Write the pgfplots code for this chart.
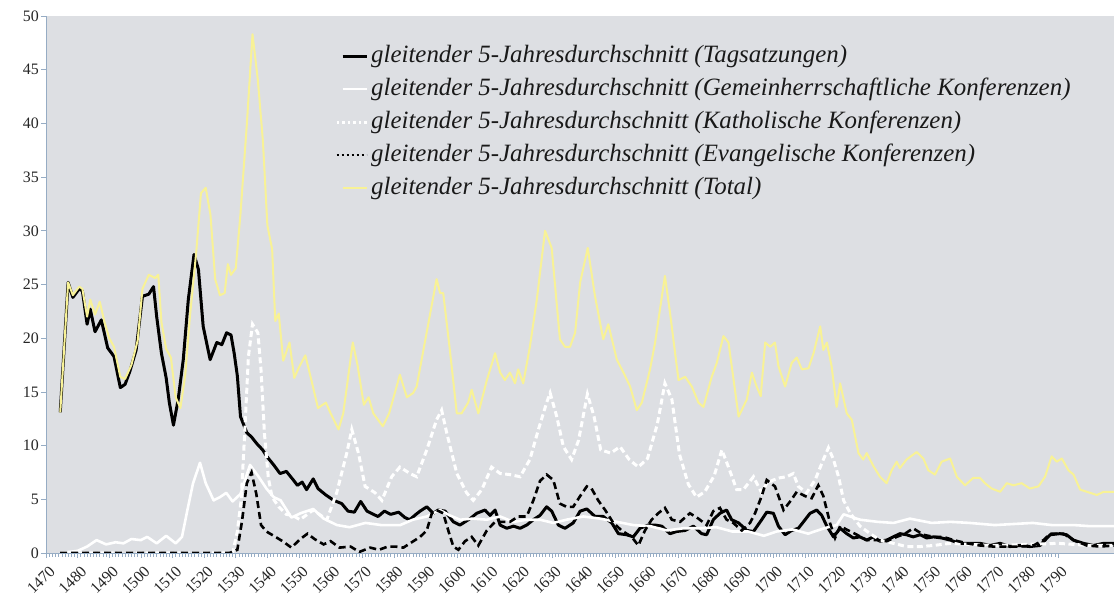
\documentclass[border=0pt]{standalone}
\usepackage{fontspec}
\setmainfont{Liberation Serif}
\usepackage{pgfplots}
\pgfplotsset{compat=1.18}
\definecolor{bgc}{RGB}{221,223,227}
\definecolor{axc}{RGB}{150,172,196}
\definecolor{tot}{RGB}{248,242,150}
\begin{document}
\begin{tikzpicture}
\useasboundingbox (0,0) rectangle (1114bp,605bp);
\begin{axis}[
 at={(46bp,52bp)}, anchor=south west,
 scale only axis, width=1068bp, height=537bp,
 xmin=1470, xmax=1807.7, ymin=0, ymax=50,
 axis background/.style={fill=bgc},
 axis x line*=bottom, axis y line*=left,
 axis line style={axc, line width=0.9bp, -},
 every outer x axis line/.append style={-},
 every outer y axis line/.append style={-},
 xtick={1470,1480,...,1790}, minor x tick num=9,
 ytick={0,5,...,50},
 tick align=outside, major tick length=5bp, minor tick length=4bp,
 tick style={axc, line width=0.6bp},
 /pgf/number format/1000 sep={}, /pgf/number format/assume math mode=true,
 ticklabel style={font=\fontsize{16}{16}\selectfont, text=black!85},
 xticklabel style={rotate=45, anchor=east, inner sep=1bp, yshift=-12bp, xshift=-2bp},
 yticklabel style={inner sep=2bp},
 legend style={at={(0.2706,0.950)}, anchor=north west, draw=none, fill=none,
   font=\fontsize{25}{25}\selectfont\itshape, text=black!90, inner sep=0pt,
   row sep=7bp, column sep=2bp,
   nodes={inner sep=1bp, text height=18bp, text depth=6bp}},
 legend cell align=left,
 legend image code/.code={\draw[#1] (0bp,0bp) -- (24bp,0bp);},
]
% Tagsatzungen
\addplot[black, line width=3bp, line join=round] coordinates {
(1474.5,13.1)(1477,25.2)(1478.5,23.8)(1480.5,24.6)(1481.5,24.4)(1483,21.3)(1484,22.7)(1485.5,20.6)(1487.5,21.7)(1489.5,19.1)(1491.5,18.3)(1493.5,15.4)(1495,15.7)(1496.5,16.9)(1498.5,18.9)(1500.5,23.9)(1502.5,24.1)(1504,24.8)(1505,22.0)(1506.5,18.6)(1508,16.3)(1509,14.0)(1510.3,11.9)(1511.8,14.3)(1513.4,18.0)(1515,23.6)(1516.8,27.8)(1518.2,26.4)(1519.7,21.1)(1521.9,18.0)(1524,19.6)(1525.6,19.4)(1527.1,20.5)(1528.5,20.3)(1529.5,18.6)(1530.5,16.5)(1531.5,12.7)(1533.5,11.2)(1535,10.8)(1536.6,10.2)(1538.5,9.6)(1539.8,9.0)(1542,8.2)(1544,7.4)(1546,7.6)(1548.2,6.8)(1549.5,6.3)(1551,6.6)(1552.4,5.9)(1554.5,6.9)(1556,6.0)(1558.5,5.4)(1561,4.9)(1563.5,4.6)(1565.5,3.9)(1567.5,3.8)(1569.5,4.8)(1571.5,3.9)(1573.5,3.6)(1575,3.4)(1577,3.9)(1579,3.6)(1581.5,3.8)(1583.5,3.3)(1585,3.1)(1587,3.6)(1588.3,3.9)(1590.4,4.3)(1592.5,3.7)(1594,4.0)(1596.2,3.9)(1598.8,2.9)(1600.9,2.6)(1604.1,3.2)(1606.2,3.7)(1608.8,4.0)(1610.4,3.5)(1612,4.0)(1613.6,2.6)(1615.7,2.3)(1617.8,2.5)(1619.9,2.3)(1622,2.6)(1624.1,3.1)(1626.2,3.5)(1628.3,4.3)(1629.9,3.9)(1632,2.6)(1634.1,2.3)(1636.7,2.8)(1638.9,3.9)(1641,4.1)(1643.6,3.4)(1646.2,3.4)(1648.9,2.8)(1651,1.8)(1653.6,1.7)(1655.7,1.5)(1657.8,2.3)(1660.4,2.6)(1662.6,2.6)(1664.7,2.5)(1667.3,1.8)(1669.4,2.0)(1672.1,2.1)(1674.7,2.5)(1677.3,1.8)(1678.9,1.7)(1681,3.1)(1683.1,3.7)(1685.2,4.0)(1686.8,3.1)(1689,2.8)(1691.6,2.1)(1693.7,2.0)(1696.3,3.1)(1697.9,3.8)(1700,3.7)(1701.6,2.5)(1703.7,1.7)(1705.8,2.1)(1707.9,2.3)(1709.5,2.9)(1711.6,3.7)(1713.7,4.0)(1715.3,3.5)(1716.9,2.5)(1719,1.5)(1721.1,2.3)(1723.2,1.8)(1725.3,1.4)(1727.4,1.5)(1729.5,1.2)(1731.6,1.5)(1733.7,1.1)(1735.8,1.2)(1737.9,1.5)(1740,1.8)(1742.1,1.7)(1744.2,1.5)(1746.4,1.7)(1748.5,1.4)(1750.6,1.5)(1753.2,1.4)(1755.9,1.2)(1759,0.9)(1762.2,0.9)(1765.3,0.9)(1768.5,0.7)(1771.7,0.9)(1774.8,0.6)(1778,0.7)(1781.1,0.6)(1784.3,0.7)(1787.5,1.7)(1790.6,1.8)(1792.7,1.7)(1794.9,1.2)(1798,0.9)(1801.2,0.7)(1804.4,0.9)(1808,0.9)
};
\addlegendentry{gleitender 5-Jahresdurchschnitt (Tagsatzungen)}
% Gemeinherrschaftliche
\addplot[white, line width=2.6bp, line join=round] coordinates {
(1474.5,0)(1480,0.2)(1483,0.6)(1486,1.2)(1489,0.8)(1492,1.0)(1494.5,0.9)(1497,1.3)(1500,1.2)(1502,1.5)(1505,0.9)(1508,1.6)(1511,0.9)(1513,1.5)(1514.5,3.7)(1516.5,6.5)(1518.7,8.4)(1520.5,6.5)(1523,4.9)(1525,5.2)(1527,5.6)(1529,4.8)(1531.5,5.5)(1534.5,8.2)(1537,7.2)(1539.7,6.0)(1542,5.2)(1544.2,4.9)(1547.6,3.3)(1550.5,3.7)(1554.5,4.1)(1557.8,3.2)(1562,2.6)(1566,2.4)(1571,2.8)(1576,2.6)(1582,2.6)(1586,3.1)(1590.4,3.4)(1594.6,4.0)(1597.7,3.5)(1600.9,3.1)(1605,3.2)(1609.4,3.1)(1613.6,3.4)(1617.8,2.9)(1622,3.1)(1626.2,3.1)(1630.4,2.8)(1634.6,3.1)(1639.9,3.4)(1645.2,3.2)(1650.5,2.9)(1655.7,2.6)(1661,2.5)(1666.3,2.1)(1671.5,2.3)(1676.8,2.3)(1682,2.4)(1687,2.0)(1692,2.0)(1697,1.6)(1701,2.0)(1706,2.2)(1711,1.8)(1716,2.3)(1720,2.6)(1722.2,3.6)(1727.4,3.1)(1733,2.9)(1738,2.8)(1743.2,3.2)(1750,2.8)(1756,2.9)(1762,2.8)(1770,2.6)(1776,2.7)(1782,2.8)(1788,2.6)(1795,2.6)(1800,2.5)(1808,2.5)
};
\addlegendentry{gleitender 5-Jahresdurchschnitt (Gemeinherrschaftliche Konferenzen)}
% Katholische
\addplot[white, line width=3bp, dash pattern=on 6bp off 3.5bp,
  legend image code/.code={\draw[white, line width=3bp, dash pattern=on 2.5bp off 3bp] (-6bp,0bp) -- (24bp,0bp);}] coordinates {
(1474.5,0)(1529,0)(1530.5,2.0)(1531.7,4.9)(1532.9,11.6)(1534,18.3)(1535.3,21.3)(1537,20.5)(1538,17)(1539.1,11)(1540.3,7)(1541.5,5.2)(1543.6,4.3)(1546,3.6)(1548,3.5)(1550.3,3.1)(1554.5,4.0)(1558.8,3.1)(1561.9,5.6)(1565.1,9.3)(1566.7,11.5)(1568.8,9.3)(1570.9,6.2)(1574.1,5.6)(1576.2,4.9)(1579.3,7.1)(1581.9,8.0)(1585.1,7.4)(1587.2,7.1)(1590.4,9.6)(1593.5,12.4)(1595.1,13.3)(1596.7,11.2)(1599.9,7.4)(1603,5.6)(1605.1,4.9)(1607.8,5.9)(1610.9,8.0)(1613.6,7.4)(1616.7,7.3)(1619.9,7.1)(1623,8.7)(1625.7,11.5)(1628.3,14.0)(1629.4,14.9)(1631.5,12.7)(1633.6,9.9)(1636.2,8.7)(1638.4,10.5)(1641.2,14.8)(1643.3,12.7)(1645.4,9.6)(1648.6,9.3)(1651.5,9.9)(1654.4,8.7)(1657.3,8.0)(1660.2,8.8)(1663.3,12)(1665.7,15.8)(1667.9,14.3)(1670.3,9.2)(1673.1,6.4)(1675.7,5.2)(1678.3,5.7)(1681.3,7.2)(1683.7,9.6)(1685.8,8.0)(1688.4,5.9)(1690.5,5.9)(1693.7,7.1)(1696.3,5.6)(1697.9,6.5)(1700,6.8)(1702,7.0)(1704.2,7.1)(1706.3,7.4)(1707.9,6.2)(1710.5,5.6)(1713.2,6.8)(1715.8,8.7)(1717.4,9.8)(1719,8.7)(1720.6,7.1)(1722.2,4.9)(1724.3,3.7)(1727.4,2.5)(1730.6,1.8)(1733.7,1.2)(1737.9,0.9)(1742.1,0.6)(1746.4,0.6)(1750.6,0.7)(1755.9,0.9)(1762,0.8)(1770,0.7)(1780,0.8)(1790,0.9)(1800,0.7)(1808,0.7)
};
\addlegendentry{gleitender 5-Jahresdurchschnitt (Katholische Konferenzen)}
% Evangelische
\addplot[black, line width=2.6bp, dash pattern=on 7bp off 4bp,
  legend image code/.code={\draw[black, line width=2bp, dash pattern=on 2bp off 3bp] (-6bp,0bp) -- (24bp,0bp);}] coordinates {
(1474.5,0)(1528,0)(1530.5,0.3)(1532,3)(1533.5,6.5)(1535,7.5)(1536.5,5.5)(1538,2.6)(1539.7,2.0)(1542,1.6)(1544.8,1.1)(1547.6,0.5)(1550.4,1.3)(1552.7,1.8)(1554.9,1.3)(1557.8,0.8)(1560,1.1)(1562.8,0.5)(1566.3,0.6)(1569.1,0.1)(1572.5,0.5)(1575.3,0.3)(1578.1,0.6)(1580.5,0.6)(1583,0.5)(1585.1,0.9)(1588.3,1.5)(1590.4,2.1)(1592,3.7)(1593.5,4.0)(1595.6,3.7)(1597.2,2.1)(1598.8,0.6)(1600.4,0.3)(1602.5,1.1)(1604.6,1.5)(1606.7,0.7)(1609.4,2.1)(1612,2.9)(1614.1,2.9)(1616.7,2.9)(1619.3,3.4)(1622,3.4)(1624.1,4.9)(1626.2,6.7)(1628.3,7.3)(1630.4,6.8)(1632.5,4.6)(1634.6,4.3)(1636.7,4.3)(1638.9,5.3)(1641,6.2)(1642.5,6.0)(1644.6,4.9)(1646.8,4.0)(1649.4,2.8)(1652,2.1)(1655.2,1.5)(1657.3,0.7)(1659.4,2.1)(1661.5,3.1)(1663.6,3.7)(1665.7,4.2)(1667.9,3.1)(1670.5,2.9)(1673.6,3.7)(1676.3,3.2)(1678.9,2.6)(1681,3.9)(1683.1,4.2)(1685.2,3.1)(1687.3,2.8)(1690,2.1)(1692.6,2.8)(1694.2,3.7)(1696.3,5.3)(1697.9,6.8)(1700.5,6.2)(1703.2,4.0)(1705.3,4.8)(1707.4,5.7)(1710,5.3)(1712.1,5.1)(1714.2,6.3)(1715.8,5.3)(1717.9,2.8)(1719.5,1.4)(1721.1,2.5)(1723.7,2.1)(1726.4,1.7)(1729.5,1.2)(1732.7,1.2)(1735.8,1.1)(1739,1.5)(1741.6,1.8)(1744.2,2.3)(1747.4,1.7)(1750.6,1.5)(1753.7,1.5)(1757,1.2)(1761.2,0.9)(1765.3,0.7)(1769.5,0.6)(1773.8,0.6)(1778,0.6)(1782.2,0.7)(1785.4,1.2)(1787.5,1.8)(1791.7,1.8)(1794.9,1.2)(1799.1,0.7)(1803.3,0.6)(1808,0.7)
};
\addlegendentry{gleitender 5-Jahresdurchschnitt (Evangelische Konferenzen)}
% Total
\addplot[tot, line width=2bp, line join=round] coordinates {
(1474.5,13.1)(1477,25.2)(1478.5,24.0)(1480.5,24.8)(1481.5,24.6)(1483,22.0)(1484,23.6)(1485.5,22.2)(1487,23.4)(1488.5,21.5)(1490,20.0)(1491.5,19.2)(1493.5,16.4)(1495,16.2)(1497,17.5)(1499,19.8)(1500.5,24.6)(1502.5,25.9)(1504.5,25.6)(1505.5,25.9)(1506.5,21.5)(1508,19.0)(1509.5,18.2)(1511,14.5)(1512.5,13.5)(1514,16.5)(1515.5,22)(1517.5,28)(1519,33.5)(1520.5,34.0)(1522,31.5)(1523.5,25.5)(1525,24.0)(1526.5,24.2)(1527.5,26.9)(1528.5,25.9)(1530,26.5)(1531.5,31.6)(1533.5,39.9)(1535.3,48.3)(1537,44)(1538.6,38.3)(1540,30.5)(1541.5,28.3)(1542.5,21.6)(1543.6,22.3)(1545,17.9)(1547,19.6)(1548.5,16.3)(1550,17.3)(1552,18.4)(1554,16.0)(1556,13.5)(1558.5,14.0)(1560,13.0)(1562.5,11.5)(1564,13.0)(1567,19.6)(1568.5,17.5)(1570.5,13.8)(1572,14.5)(1573.5,13.0)(1576.5,11.8)(1578.5,13)(1581.9,16.6)(1584.1,14.5)(1586.1,14.9)(1587.2,15.5)(1593.5,25.5)(1594.6,24.2)(1595.6,24.2)(1597.7,18.9)(1599.9,13.0)(1601.4,13.0)(1603.5,14.0)(1604.6,15.2)(1606.7,13.0)(1609.4,16.1)(1612,18.6)(1613.6,16.8)(1615.1,16.1)(1616.7,16.8)(1618.3,15.8)(1619.3,17.1)(1620.9,15.8)(1623,19.2)(1625.2,23.6)(1627.8,30.0)(1629.9,28.4)(1632.5,19.9)(1634.1,19.2)(1635.7,19.2)(1637.3,20.5)(1638.9,25.2)(1641.3,28.4)(1643.6,23.9)(1646.2,19.9)(1647.8,21.3)(1650.5,18.0)(1652.6,16.8)(1654.7,15.5)(1656.8,13.3)(1658.4,14.0)(1661,17.1)(1662.6,19.6)(1665.7,25.8)(1667.3,22.4)(1670,16.1)(1672.1,16.4)(1674.2,15.5)(1676.3,14.0)(1677.9,13.6)(1680.5,16.4)(1682.1,17.7)(1684.2,20.2)(1685.8,19.6)(1689,12.7)(1691.6,14.3)(1693.2,16.8)(1694.7,15.5)(1696,14.6)(1697.4,19.6)(1699,19.2)(1700.5,19.6)(1701.6,17.4)(1703.7,15.5)(1705.8,17.7)(1707.4,18.2)(1709,17.1)(1711.1,17.2)(1712.7,18.6)(1714.8,21.1)(1715.8,18.9)(1716.9,19.6)(1718.4,17.4)(1720,13.6)(1721.1,15.8)(1723.2,13.0)(1724.8,12.4)(1726.9,9.3)(1728.4,8.7)(1729.5,9.3)(1731.6,8.1)(1733.7,7.1)(1735.8,6.5)(1737.4,7.7)(1739,8.5)(1740,7.9)(1742.1,8.7)(1745.3,9.4)(1747.4,8.8)(1749,7.7)(1751.1,7.3)(1753.2,8.5)(1755.9,8.8)(1758,7.1)(1760.6,6.3)(1763.2,7.0)(1765.3,7.0)(1766.9,6.5)(1769,6.0)(1771.7,5.7)(1773.8,6.5)(1775.9,6.3)(1778.5,6.5)(1781.1,6.0)(1783.8,6.2)(1785.9,7.1)(1788,9.0)(1789.6,8.5)(1791.2,8.8)(1793.3,7.7)(1794.9,7.3)(1797,5.9)(1799.1,5.7)(1802.3,5.4)(1804.4,5.7)(1808,5.7)
};
\addlegendentry{gleitender 5-Jahresdurchschnitt (Total)}
\end{axis}
\end{tikzpicture}
\end{document}
